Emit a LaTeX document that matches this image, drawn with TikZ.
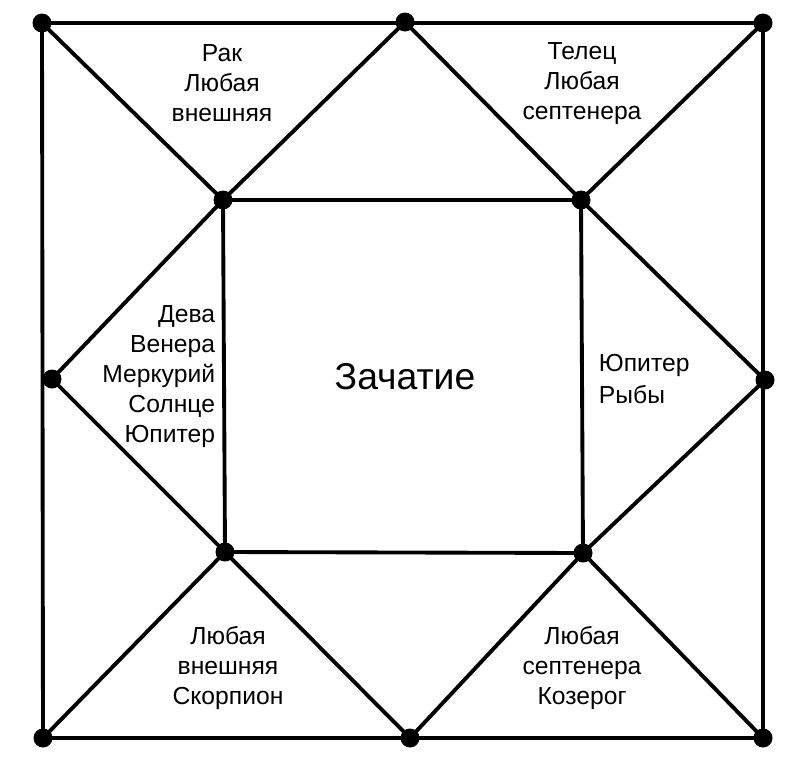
\documentclass[tikz,border=0pt]{standalone}
\usepackage{fontspec}
\setmainfont{Liberation Sans}
\usepackage{tikz}
\usetikzlibrary{calc}

\begin{document}
\begin{tikzpicture}[x=0.75pt, y=-0.75pt, line width=2.9pt,
		vdot/.style={fill=black},
		sign/.style={inner sep=0pt, font=\fontsize{18.5}{22.5}\selectfont}]
					\useasboundingbox (0,0) rectangle (797,768);
					% outer frame
					\coordinate (TL) at (42,23);
					\coordinate (TM) at (405,22);
					\coordinate (TR) at (763,23);
					\coordinate (RM) at (765,380);
					\coordinate (BR) at (763,738);
					\coordinate (BM) at (410,738);
					\coordinate (BL) at (43,738);
					\coordinate (LM) at (52,379);
					% inner square
					\coordinate (A) at (223,200);
					\coordinate (B) at (581,200);
					\coordinate (C) at (583,553);
					\coordinate (D) at (225,552);
					\draw (TL) -- (TR) -- (BR) -- (BL) -- cycle;
					\draw (A) -- (B) -- (C) -- (D) -- cycle;
					\draw (TL) -- (A) -- (TM) -- (B) -- (TR);
					\draw (B) -- (RM) -- (C) -- (BR);
					\draw (C) -- (BM) -- (D) -- (BL);
					\draw (D) -- (LM) -- (A);
					\foreach \p in {TL,TM,TR,RM,BR,BM,BL,LM,A,B,C,D}
						\fill[vdot] (\p) circle (9.5);
					\node[sign, align=center] (rak) at (222,83) {Рак\\Любая\\внешняя};
					\node[sign, align=center] (telec) at (582,84) {Телец\\Любая\\септенера};
					\node[sign, align=right, anchor=east] (deva) at (217,377) {Дева\\Венера\\Меркурий\\Солнце\\Юпитер};
					\node[sign, align=left, anchor=west, font=\fontsize{18.5}{24}\selectfont] (ryby) at (597,379) {Юпитер\\Рыбы};
					\node[sign, align=center] (skorp) at (228,668) {Любая\\внешняя\\Скорпион};
					\node[sign, align=center] (kozer) at (582,668) {Любая\\септенера\\Козерог};
					\node[inner sep=0pt, font=\fontsize{28}{32}\selectfont] (zach) at (405,377) {Зачатие};
				\end{tikzpicture}
\end{document}
